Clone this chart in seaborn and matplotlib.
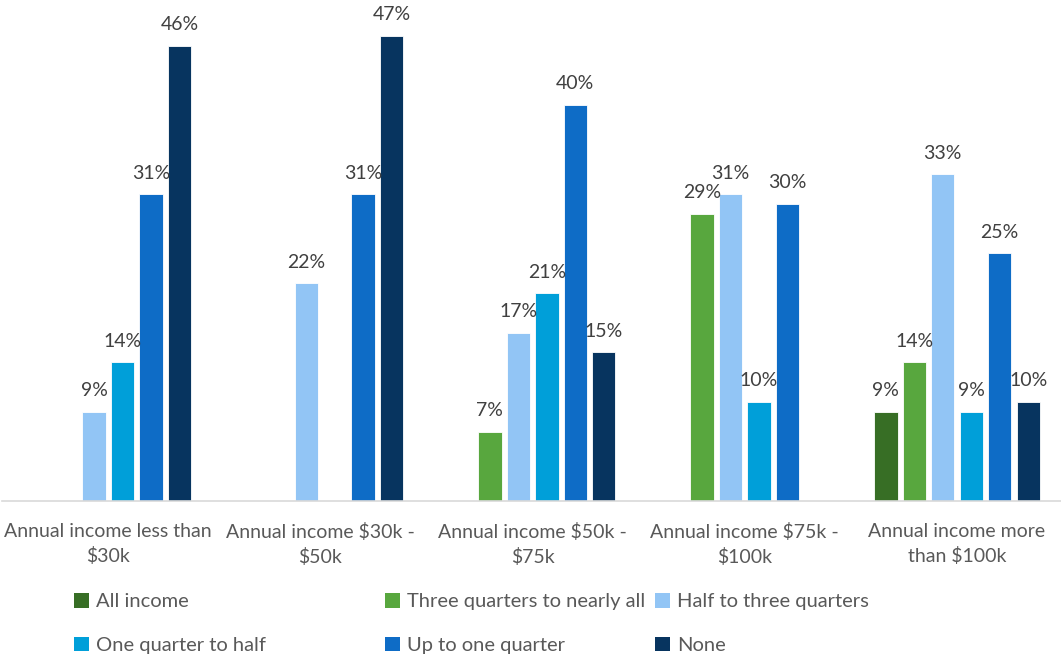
import numpy as np
import pandas as pd
import matplotlib
matplotlib.use("Agg")
import matplotlib.pyplot as plt
import seaborn as sns

# Income brackets (x-axis groups)
groups = [
    "Annual income less than\n$30k",
    "Annual income $30k -\n$50k",
    "Annual income $50k -\n$75k",
    "Annual income $75k -\n$100k",
    "Annual income more\nthan $100k",
]

# Share of income categories (hue levels)
shares = [
    "All income",
    "Three quarters to nearly all",
    "Half to three quarters",
    "One quarter to half",
    "Up to one quarter",
    "None",
]

# Percent of respondents per bracket; NaN = no bar shown
all_income     = [np.nan, np.nan, np.nan, np.nan, 9]
three_quarters = [np.nan, np.nan, 7, 29, 14]
half_to_three  = [9, 22, 17, 31, 33]
quarter_half   = [14, np.nan, 21, 10, 9]
up_to_quarter  = [31, 31, 40, 30, 25]
none_share     = [46, 47, 15, np.nan, 10]

colors = ["#376e25", "#58a73e", "#92c5f5", "#009fd9", "#0e6cc6", "#07345f"]

series = [all_income, three_quarters, half_to_three, quarter_half, up_to_quarter, none_share]
rows = []
for share, vals in zip(shares, series):
    for g, v in zip(groups, vals):
        rows.append({"group": g, "share": share, "pct": v})
df = pd.DataFrame(rows).dropna()

sns.set_theme(style="white")
plt.rcParams["font.family"] = ["Lato", "DejaVu Sans"]

fig = plt.figure(figsize=(10.61, 6.58), dpi=100)
ax = fig.add_axes([0.002, 0.2386, 1.0, 0.7524])

sns.barplot(
    data=df, x="group", y="pct", hue="share",
    order=groups, hue_order=shares, palette=colors, saturation=1,
    width=0.805, gap=0.18, dodge=True, ax=ax,
    edgecolor="white", linewidth=0.6,
)

for cont in ax.containers:
    ax.bar_label(cont, fmt="%.0f%%", padding=9, fontsize=14, color="#404040")

ax.set_ylim(0, 50)
ax.set_xlim(-0.5, 4.5)
ax.set_xlabel("")
ax.set_ylabel("")
ax.set_yticks([])
for side in ["top", "left", "right"]:
    ax.spines[side].set_visible(False)
ax.spines["bottom"].set_color("#d9d9d9")
ax.spines["bottom"].set_linewidth(1.2)
ax.tick_params(axis="x", length=0, pad=16, labelsize=14, labelcolor="#595959")
for t in ax.get_xticklabels():
    t.set_linespacing(1.45)

handles, labels = ax.get_legend_handles_labels()
ax.get_legend().remove()
hmap = dict(zip(labels, handles))

# Legend laid out as three columns, two rows
col_items = [
    (["All income", "One quarter to half"], 74),
    (["Three quarters to nearly all", "Up to one quarter"], 385),
    (["Half to three quarters", "None"], 655),
]
W, H = fig.get_size_inches() * fig.dpi
for names, xpix in col_items:
    leg = fig.legend(
        [hmap[n] for n in names], names,
        loc="upper left", bbox_to_anchor=(xpix / W, 1 - 593 / H),
        frameon=False, fontsize=14.5, labelcolor="#595959",
        handlelength=0.75, handleheight=0.75, handletextpad=0.35,
        labelspacing=1.3, borderpad=0, borderaxespad=0,
    )
    for h in leg.legend_handles:
        h.set_edgecolor("none")

fig.savefig("out.png", dpi=100)
